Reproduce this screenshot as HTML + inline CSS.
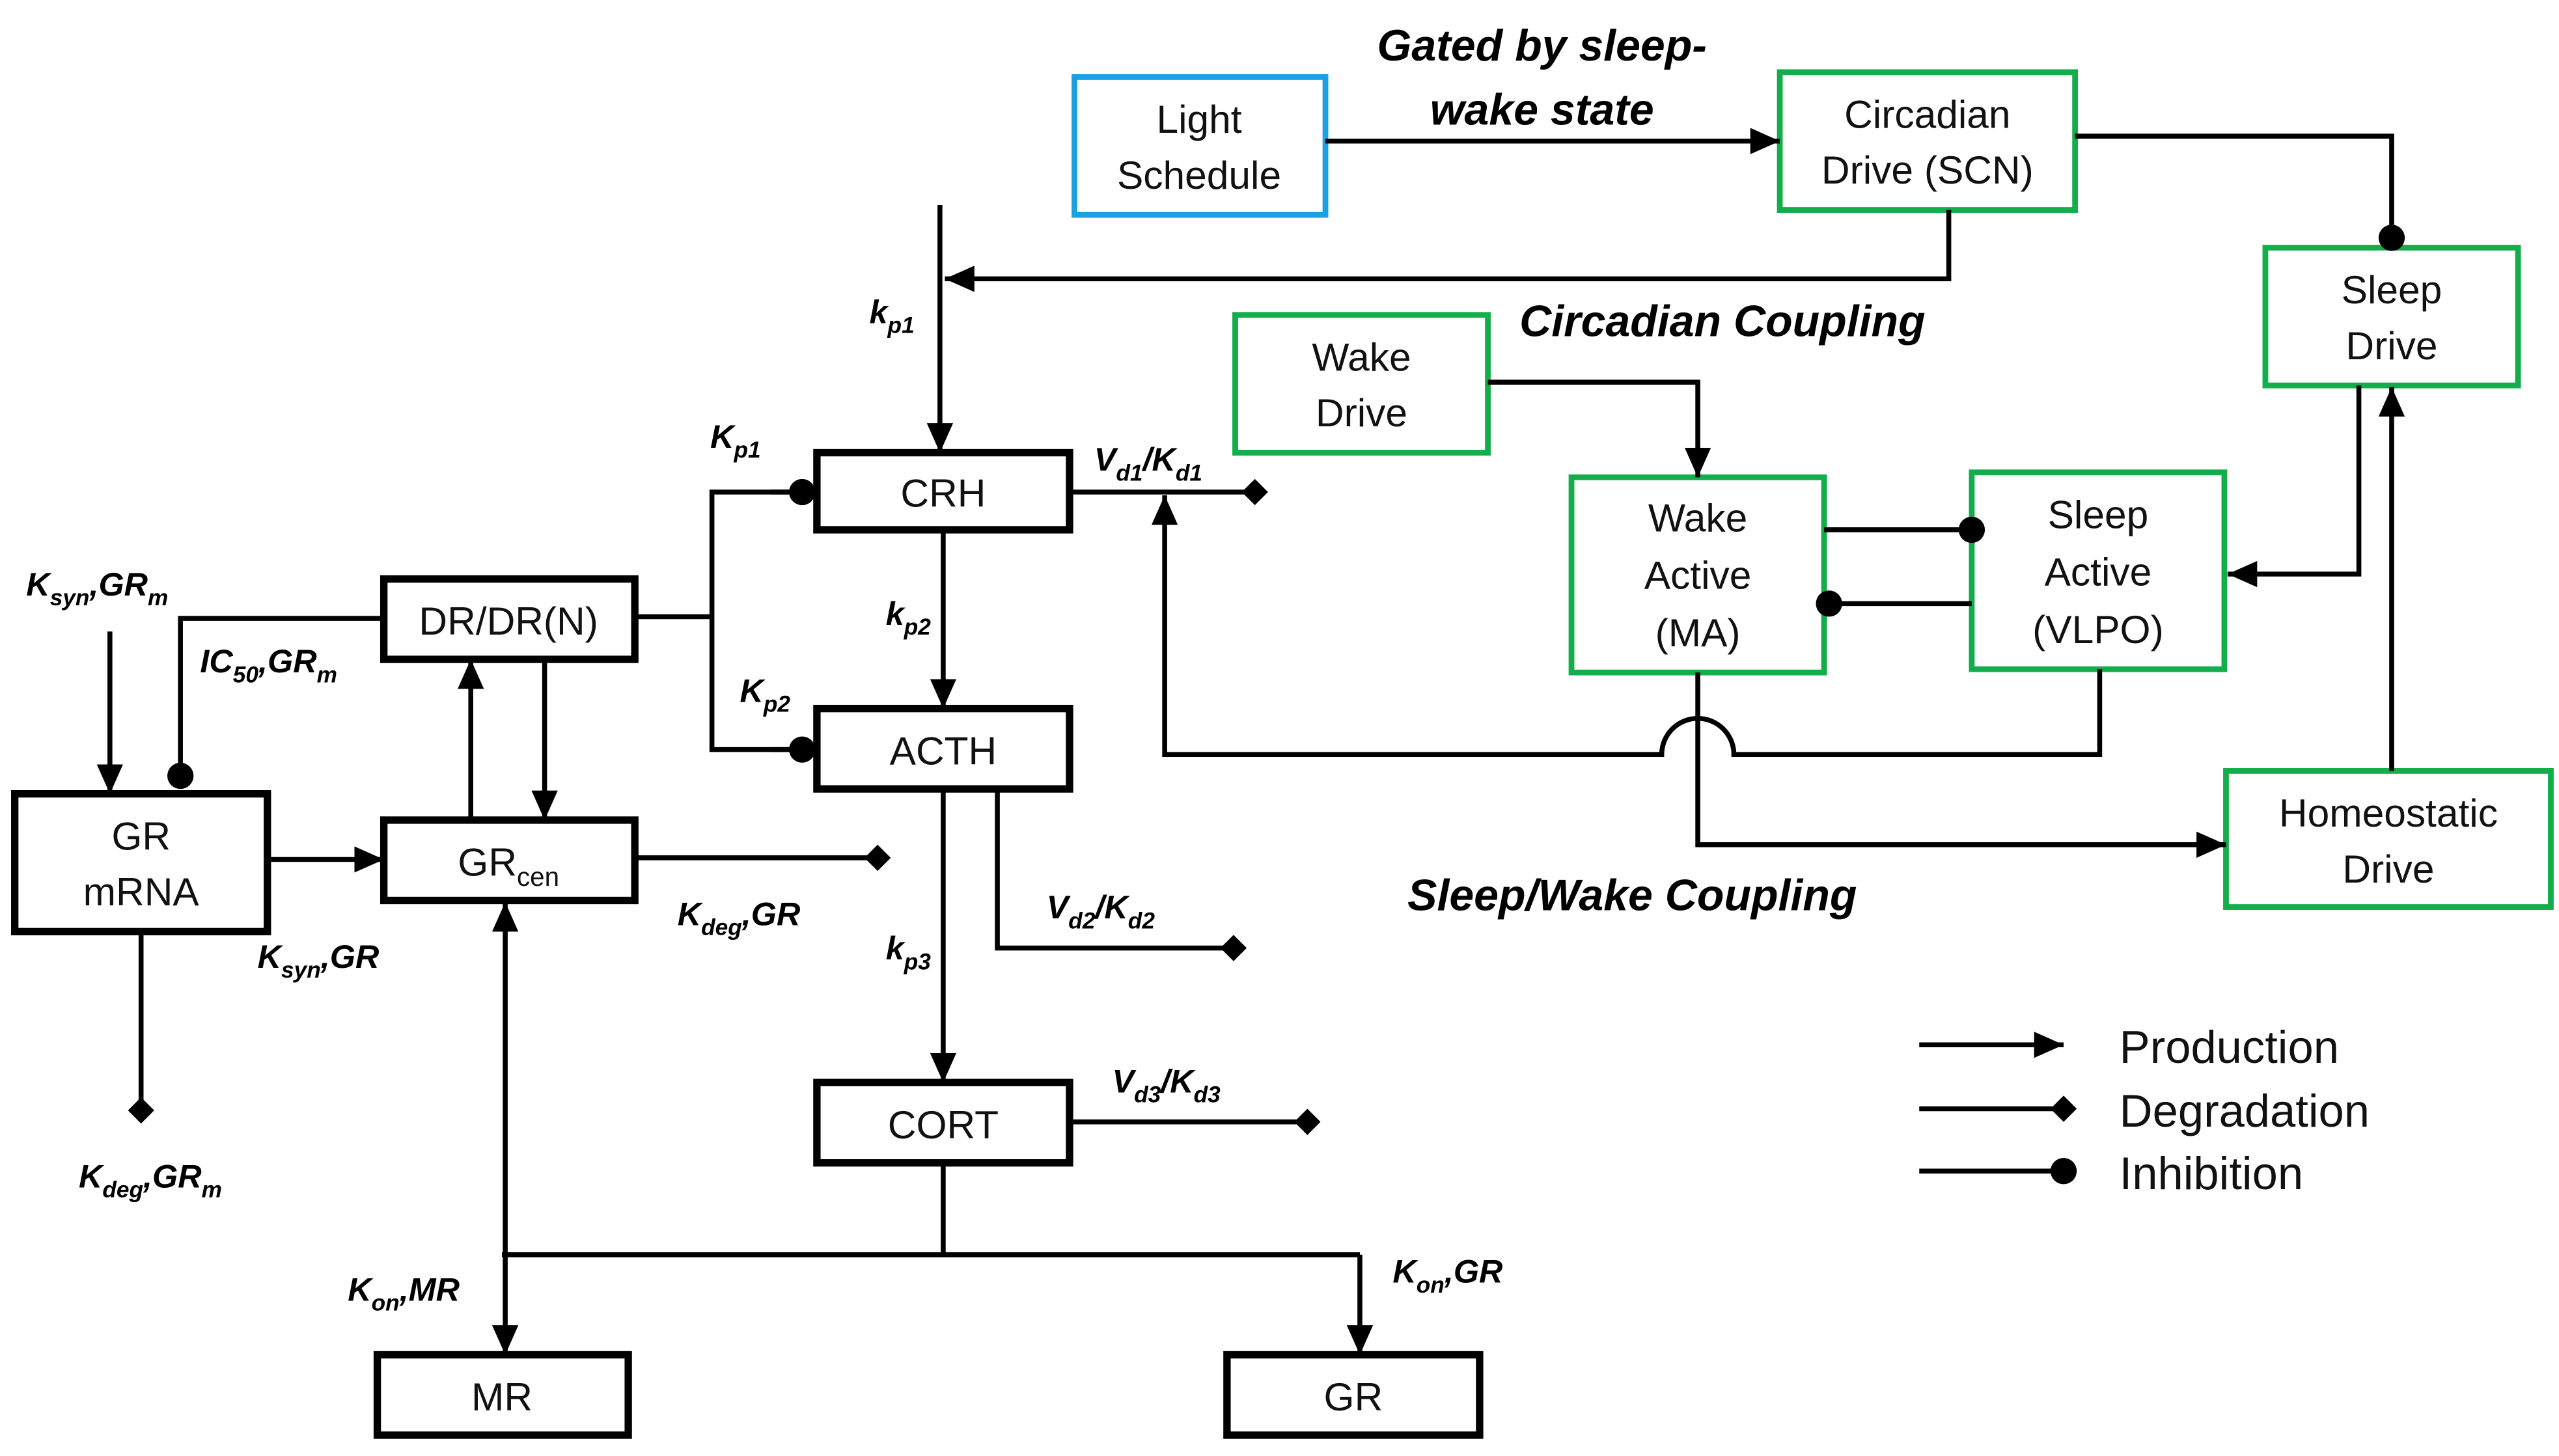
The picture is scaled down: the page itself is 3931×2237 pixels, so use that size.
<!DOCTYPE html>
<html><head><meta charset="utf-8"><style>
html,body{margin:0;padding:0;background:#fff;}
svg{display:block;}
text{font-family:"Liberation Sans",sans-serif;}
.bt{font-size:24px;text-anchor:middle;fill:#111;}
.lb{font-size:20px;font-weight:bold;font-style:italic;fill:#000;}
.tt{font-size:27px;font-weight:bold;font-style:italic;fill:#000;text-anchor:middle;}
.lg{font-size:28px;fill:#111;}
</style></head><body>
<svg width="3931" height="2237" viewBox="0 0 1560 887.7" preserveAspectRatio="none" xmlns="http://www.w3.org/2000/svg">
<defs>
<marker id="a" markerUnits="userSpaceOnUse" markerWidth="20" markerHeight="16" refX="18" refY="8" orient="auto"><path d="M0,0 L18,8 L0,16 Z" fill="#000"/></marker>
<marker id="d" markerUnits="userSpaceOnUse" markerWidth="20" markerHeight="20" refX="10" refY="10" orient="auto"><path d="M2,10 L10,2 L18,10 L10,18 Z" fill="#000"/></marker>
<marker id="c" markerUnits="userSpaceOnUse" markerWidth="20" markerHeight="20" refX="10" refY="10" orient="auto"><circle cx="10" cy="10" r="8" fill="#000"/></marker>
</defs>
<!-- boxes -->
<g fill="#fff" stroke-width="3.5">
<rect x="655" y="47" width="153" height="84" stroke="#1ba1e2"/>
<g stroke="#14ad4b">
<rect x="1085" y="44" width="180" height="84"/>
<rect x="1381" y="151" width="154" height="84"/>
<rect x="753" y="192" width="154" height="84"/>
<rect x="958" y="291" width="154" height="119"/>
<rect x="1202" y="288" width="154" height="120"/>
<rect x="1357" y="470" width="198" height="83"/>
</g>
<g stroke="#000" stroke-width="4.5">
<rect x="498" y="276" width="154" height="47"/>
<rect x="498" y="432" width="154" height="49"/>
<rect x="498" y="660" width="154" height="49"/>
<rect x="234" y="353" width="153" height="49"/>
<rect x="234" y="500" width="153" height="49"/>
<rect x="9" y="484" width="154" height="84"/>
<rect x="230" y="826" width="153" height="49"/>
<rect x="748" y="826" width="154" height="49"/>
</g>
</g>
<g fill="none" stroke="#000" stroke-width="3">
<!-- top -->
<line x1="808" y1="86" x2="1085" y2="86" marker-end="url(#a)"/>
<polyline points="1265,83 1458,83 1458,145" marker-end="url(#c)"/>
<polyline points="1188,128 1188,170 576,170" marker-end="url(#a)"/>
<line x1="573" y1="125" x2="573" y2="276" marker-end="url(#a)"/>
<polyline points="907,233 1035,233 1035,291" marker-end="url(#a)"/>
<line x1="1112" y1="323" x2="1202" y2="323" marker-end="url(#c)"/>
<line x1="1202" y1="368" x2="1115" y2="368" marker-end="url(#c)"/>
<polyline points="1438,235 1438,350 1358,350" marker-end="url(#a)"/>
<line x1="1458" y1="470" x2="1458" y2="236" marker-end="url(#a)"/>
<polyline points="1035,410 1035,515 1357,515" marker-end="url(#a)"/>
<path d="M1280,408 L1280,460 L1057,460 A22,22 0 0 0 1013,460 L710,460 L710,302" marker-end="url(#a)"/>
<!-- legend -->
<line x1="1170" y1="637" x2="1258" y2="637" marker-end="url(#a)"/>
<line x1="1170" y1="676" x2="1258" y2="676" marker-end="url(#d)"/>
<line x1="1170" y1="714" x2="1258" y2="714" marker-end="url(#c)"/>
<!-- HPA -->
<line x1="652" y1="300" x2="765" y2="300" marker-end="url(#d)"/>
<line x1="575" y1="323" x2="575" y2="432" marker-end="url(#a)"/>
<polyline points="608,481 608,578 752,578" marker-end="url(#d)"/>
<line x1="575" y1="481" x2="575" y2="660" marker-end="url(#a)"/>
<line x1="652" y1="684" x2="797" y2="684" marker-end="url(#d)"/>
<line x1="575" y1="709" x2="575" y2="765"/>
<line x1="306" y1="765" x2="829" y2="765"/>
<line x1="829" y1="765" x2="829" y2="826" marker-end="url(#a)"/>
<line x1="308" y1="765" x2="308" y2="826" marker-end="url(#a)"/>
<line x1="308" y1="765" x2="308" y2="550" marker-end="url(#a)"/>
<line x1="387" y1="376" x2="434" y2="376"/>
<polyline points="489,300 434,300 434,457 489,457"/>
<line x1="470" y1="300" x2="489" y2="300" marker-end="url(#c)"/>
<line x1="470" y1="457" x2="489" y2="457" marker-end="url(#c)"/>
<line x1="387" y1="523" x2="535" y2="523" marker-end="url(#d)"/>
<line x1="287" y1="500" x2="287" y2="402" marker-end="url(#a)"/>
<line x1="332" y1="402" x2="332" y2="500" marker-end="url(#a)"/>
<line x1="163" y1="524" x2="234" y2="524" marker-end="url(#a)"/>
<line x1="86" y1="568" x2="86" y2="677" marker-end="url(#d)"/>
<line x1="67" y1="385" x2="67" y2="484" marker-end="url(#a)"/>
<polyline points="234,377 110,377 110,473" marker-end="url(#c)"/>
</g>
<!-- box text -->
<g class="bt">
<text x="731" y="81">Light</text><text x="731" y="115">Schedule</text>
<text x="1175" y="78">Circadian</text><text x="1175" y="112">Drive (SCN)</text>
<text x="1458" y="185">Sleep</text><text x="1458" y="219">Drive</text>
<text x="830" y="226">Wake</text><text x="830" y="260">Drive</text>
<text x="1035" y="324">Wake</text><text x="1035" y="359">Active</text><text x="1035" y="394">(MA)</text>
<text x="1279" y="322">Sleep</text><text x="1279" y="357">Active</text><text x="1279" y="392">(VLPO)</text>
<text x="1456" y="504">Homeostatic</text><text x="1456" y="538">Drive</text>
<text x="575" y="309">CRH</text>
<text x="575" y="466">ACTH</text>
<text x="575" y="694">CORT</text>
<text x="310" y="387">DR/DR(N)</text>
<text x="310" y="534">GR<tspan font-size="16" dy="6">cen</tspan></text>
<text x="86" y="518">GR</text><text x="86" y="552">mRNA</text>
<text x="306" y="860">MR</text>
<text x="825" y="860">GR</text>
</g>
<!-- titles -->
<text class="tt" x="940" y="37">Gated by sleep-</text>
<text class="tt" x="940" y="76">wake state</text>
<text class="tt" x="1050" y="205">Circadian Coupling</text>
<text class="tt" x="995" y="555">Sleep/Wake Coupling</text>
<!-- legend text -->
<text class="lg" x="1292" y="648">Production</text>
<text class="lg" x="1292" y="687">Degradation</text>
<text class="lg" x="1292" y="725">Inhibition</text>
<!-- labels -->
<g class="lb">
<text x="530" y="197">k<tspan font-size="14" dy="6">p1</tspan></text>
<text x="433" y="273">K<tspan font-size="14" dy="6">p1</tspan></text>
<text x="667" y="287">V<tspan font-size="14" dy="6">d1</tspan><tspan dy="-6">/K</tspan><tspan font-size="14" dy="6">d1</tspan></text>
<text x="540" y="381">k<tspan font-size="14" dy="6">p2</tspan></text>
<text x="451" y="428">K<tspan font-size="14" dy="6">p2</tspan></text>
<text x="638" y="560">V<tspan font-size="14" dy="6">d2</tspan><tspan dy="-6">/K</tspan><tspan font-size="14" dy="6">d2</tspan></text>
<text x="540" y="585">k<tspan font-size="14" dy="6">p3</tspan></text>
<text x="678" y="666">V<tspan font-size="14" dy="6">d3</tspan><tspan dy="-6">/K</tspan><tspan font-size="14" dy="6">d3</tspan></text>
<text x="16" y="363">K<tspan font-size="14" dy="6">syn</tspan><tspan dy="-6">,GR</tspan><tspan font-size="14" dy="6">m</tspan></text>
<text x="122" y="410">IC<tspan font-size="14" dy="6">50</tspan><tspan dy="-6">,GR</tspan><tspan font-size="14" dy="6">m</tspan></text>
<text x="157" y="590">K<tspan font-size="14" dy="6">syn</tspan><tspan dy="-6">,GR</tspan></text>
<text x="413" y="564">K<tspan font-size="14" dy="6">deg</tspan><tspan dy="-6">,GR</tspan></text>
<text x="48" y="724">K<tspan font-size="14" dy="6">deg</tspan><tspan dy="-6">,GR</tspan><tspan font-size="14" dy="6">m</tspan></text>
<text x="212" y="793">K<tspan font-size="14" dy="6">on</tspan><tspan dy="-6">,MR</tspan></text>
<text x="849" y="782">K<tspan font-size="14" dy="6">on</tspan><tspan dy="-6">,GR</tspan></text>
</g>
</svg>
</body></html>
